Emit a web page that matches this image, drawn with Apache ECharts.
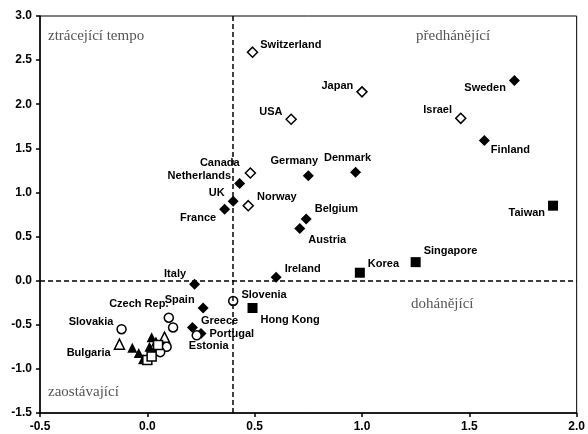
<!DOCTYPE html>
<html><head><meta charset="utf-8">
<script src="https://cdn.jsdelivr.net/npm/echarts@6/dist/echarts.min.js"></script>
<style>html,body{margin:0;padding:0;background:#fff}#c{width:588px;height:434px}</style>
</head><body><div id="c"></div>
<script>
// Data: [name, x, y]
const filledDiamonds = [
  ['Sweden',1.71,2.27],['Finland',1.57,1.59],['Germany',0.75,1.19],['Denmark',0.97,1.23],
  ['Netherlands',0.43,1.10],['UK',0.40,0.90],['France',0.36,0.81],['Belgium',0.74,0.70],
  ['Austria',0.71,0.59],['Ireland',0.60,0.04],['Italy',0.22,-0.04],['Spain',0.26,-0.31],
  ['Greece',0.21,-0.53],['Portugal',0.25,-0.60]
];
const openDiamonds = [
  ['Switzerland',0.49,2.59],['Japan',1.00,2.14],['USA',0.67,1.83],['Israel',1.46,1.84],
  ['Canada',0.48,1.22],['Norway',0.47,0.85]
];
const filledSquares = [
  ['Taiwan',1.89,0.85],['Singapore',1.25,0.21],['Korea',0.99,0.09],['Hong Kong',0.49,-0.31]
];
const openCircles = [
  ['Slovenia',0.40,-0.23],['Estonia',0.23,-0.62],['Czech Rep.',0.10,-0.42],['',0.12,-0.53],
  ['Slovakia',-0.12,-0.55],['',0.09,-0.75],['',0.06,-0.81]
];
const openTriangles = [['Bulgaria',-0.13,-0.72],['',0.08,-0.64]];
const filledTriangles = [
  ['',-0.07,-0.76],['',-0.04,-0.82],['',-0.02,-0.89],['',0.02,-0.64],['',0.04,-0.69],
  ['',0.01,-0.75],['',0.03,-0.80]
];
const openSquares = [['',0.00,-0.90],['',0.02,-0.86],['',0.05,-0.73]];
const refX = 0.4, refY = 0;
const quadrantLabels = ['ztrácející tempo','předhánějící','dohánějící','zaostávající'];

// label placement (style, not data)
const place = {
  'Sweden':['left',[0,8]], 'Finland':['right',[-2,10]], 'Germany':['top',[-14,-1]],
  'Denmark':['top',[-8,0]], 'Netherlands':['left',[0,-8]], 'UK':['left',[0,-8]],
  'France':['left',[0,9]], 'Belgium':['right',[0,-10]], 'Austria':['right',[0,11]],
  'Ireland':['right',[0,-8]], 'Italy':['left',[0,-10]], 'Spain':['left',[0,-8]],
  'Greece':['right',[0,-6]], 'Portugal':['right',[0,0]],
  'Switzerland':['right',[-1,-7]], 'Japan':['left',[0,-6]], 'USA':['left',[0,-7]],
  'Israel':['left',[0,-8]], 'Canada':['left',[-2,-10]], 'Norway':['right',[0,-9]],
  'Taiwan':['left',[0,7]], 'Singapore':['right',[0,-11]], 'Korea':['right',[0,-9]],
  'Hong Kong':['right',[0,12]], 'Slovenia':['right',[0,-6]], 'Estonia':['bottom',[12,-3]],
  'Czech Rep.':['top',[-30,0]], 'Slovakia':['left',[0,-7]], 'Bulgaria':['left',[0,9]]
};

function items(arr){
  return arr.map(d => {
    const p = place[d[0]];
    const o = {name:d[0], value:[d[1],d[2]]};
    if (d[0] && p) o.label = {show:true, position:p[0], offset:p[1], formatter:d[0], distance:3};
    return o;
  });
}
const labelStyle = {show:false, color:'#000', fontFamily:'Liberation Sans, Arial', fontSize:11, fontWeight:'bold'};
function series(arr, symbol, filled, size){
  return {
    type:'scatter', data:items(arr), symbol:symbol, symbolSize:size,
    itemStyle: filled ? {color:'#000', opacity:1} : {color:'#fff', borderColor:'#000', borderWidth:1.5, opacity:1},
    label: labelStyle, emphasis:{disabled:true}, z: filled?3:4
  };
}
const s = [
  series(filledDiamonds,'diamond',true,11),
  series(openDiamonds,'diamond',false,10),
  series(filledSquares,'rect',true,10),
  series(openCircles,'circle',false,9),
  series(openTriangles,'triangle',false,10),
  series(filledTriangles,'triangle',true,10),
  series(openSquares,'rect',false,9)
];
s[0].markLine = {
  silent:true, symbol:'none', label:{show:false},
  lineStyle:{color:'#000', type:[5,3], width:1.5},
  data:[{xAxis:refX},{yAxis:refY}]
};

const chart = echarts.init(document.getElementById('c'));
const qs = {fontFamily:'Liberation Serif, Times New Roman', fontSize:15, fill:'#555'};
chart.setOption({
  animation:false,
  grid:{left:40, right:8, top:16, bottom:21, show:true, borderColor:'#000', borderWidth:1},
  xAxis:{type:'value', min:-0.5, max:2.0, interval:0.5,
    axisLine:{show:true, onZero:false, lineStyle:{color:'#000', width:1.5}},
    axisTick:{show:true, length:4, lineStyle:{color:'#000', width:1.5}},
    splitLine:{show:false},
    axisLabel:{color:'#000', fontWeight:'bold', fontSize:12, fontFamily:'Liberation Sans, Arial', margin:8,
      formatter:v=>v.toFixed(1)}},
  yAxis:{type:'value', min:-1.5, max:3.0, interval:0.5,
    axisLine:{show:true, onZero:false, lineStyle:{color:'#000', width:1.5}},
    axisTick:{show:true, length:4, lineStyle:{color:'#000', width:1.5}},
    splitLine:{show:false},
    axisLabel:{color:'#000', fontWeight:'bold', fontSize:12, fontFamily:'Liberation Sans, Arial', margin:8,
      formatter:v=>v.toFixed(1)}},
  graphic:[
    {type:'text', left:48, top:29, style:Object.assign({text:quadrantLabels[0]}, qs)},
    {type:'text', left:416, top:29, style:Object.assign({text:quadrantLabels[1]}, qs)},
    {type:'text', left:411, top:297, style:Object.assign({text:quadrantLabels[2]}, qs)},
    {type:'text', left:48, top:385, style:Object.assign({text:quadrantLabels[3]}, qs)}
  ],
  series:s
});
</script></body></html>
